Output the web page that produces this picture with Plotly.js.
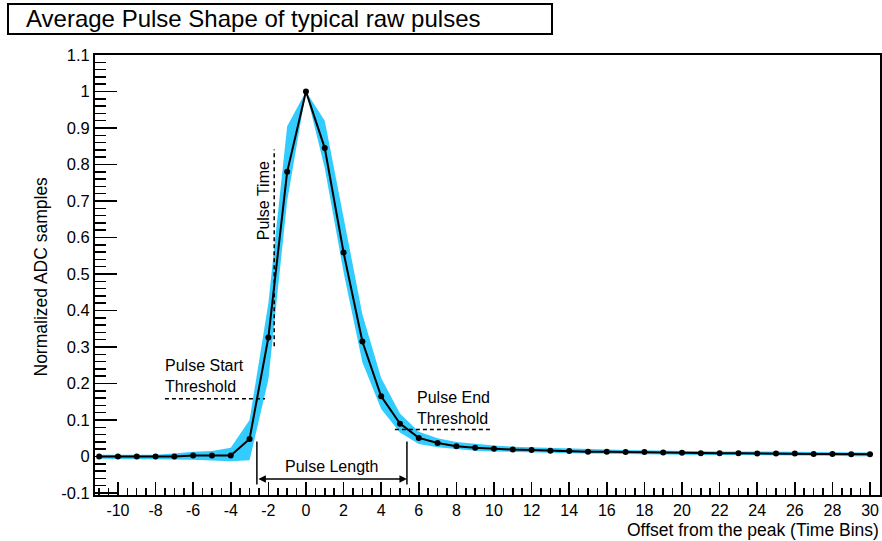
<!DOCTYPE html>
<html>
<head>
<meta charset="utf-8">
<script src="https://cdn.plot.ly/plotly-3.0.1.min.js"></script>
<style>html,body{margin:0;padding:0;background:#fff;}#chart{width:882px;height:541px;}</style>
</head>
<body>
<div id="chart"></div>
<script>
// ---- data ----
const offsets = [-11,-10,-9,-8,-7,-6,-5,-4,-3,-2,-1,0,1,2,3,4,5,6,7,8,9,10,11,12,13,14,15,16,17,18,19,20,21,22,23,24,25,26,27,28,29,30];
const meanADC = [0.000,0.000,0.000,0.000,0.000,0.003,0.003,0.003,0.048,0.326,0.780,1.000,0.845,0.559,0.315,0.165,0.090,0.051,0.037,0.028,0.024,0.021,0.019,0.018,0.016,0.015,0.013,0.013,0.012,0.012,0.011,0.010,0.009,0.009,0.009,0.008,0.008,0.008,0.007,0.007,0.006,0.006];
const bandUpper = [0.005,0.005,0.005,0.005,0.008,0.013,0.015,0.024,0.100,0.420,0.905,1.000,0.920,0.650,0.390,0.215,0.118,0.068,0.050,0.040,0.034,0.030,0.027,0.025,0.023,0.021,0.019,0.019,0.018,0.017,0.016,0.015,0.014,0.014,0.014,0.013,0.013,0.013,0.012,0.012,0.011,0.011];
const bandLower = [-0.006,-0.006,-0.006,-0.006,-0.008,-0.009,-0.011,-0.013,-0.010,0.210,0.700,1.000,0.790,0.505,0.258,0.130,0.066,0.034,0.025,0.020,0.016,0.014,0.012,0.011,0.010,0.009,0.008,0.008,0.007,0.007,0.006,0.005,0.004,0.004,0.004,0.003,0.003,0.003,0.002,0.002,0.001,0.001];
const xTickVals = [-10,-8,-6,-4,-2,0,2,4,6,8,10,12,14,16,18,20,22,24,26,28,30];
const xTickText = ["-10","-8","-6","-4","-2","0","2","4","6","8","10","12","14","16","18","20","22","24","26","28","30"];
const yTickVals = [-0.1,0,0.1,0.2,0.3,0.4,0.5,0.6,0.7,0.8,0.9,1,1.1];
const yTickText = ["-0.1","0","0.1","0.2","0.3","0.4","0.5","0.6","0.7","0.8","0.9","1","1.1"];

const FONT = "Liberation Sans, Arial, Helvetica, sans-serif";
const W = 882, H = 541, ML = 95, MR = 2, MT = 55, MB = 46;
const PW = W - ML - MR, PH = H - MT - MB;
const px2x = p => (p - ML) / PW;
const py2y = p => (H - MB - p) / PH;

const traces = [
  {x: offsets, y: bandLower, mode: 'lines', line: {width: 0, color: '#33ccff'}, hoverinfo: 'skip', showlegend: false},
  {x: offsets, y: bandUpper, mode: 'lines', fill: 'tonexty', fillcolor: '#33ccff', line: {width: 0, color: '#33ccff'}, hoverinfo: 'skip', showlegend: false},
  {x: offsets, y: meanADC, mode: 'lines+markers', line: {color: '#000', width: 2}, marker: {color: '#000', size: 6}, showlegend: false}
];

const dashed = {color: '#000', width: 1.5, dash: '4px,3px'};
const solid = {color: '#000', width: 1.5};

const layout = {
  width: W, height: H,
  margin: {l: ML, r: MR, t: MT, b: MB, pad: 0},
  paper_bgcolor: '#fff', plot_bgcolor: '#fff',
  font: {family: FONT, size: 16, color: '#000'},
  showlegend: false,
  xaxis: {
    range: [-11.22, 30.53], tickmode: 'array', tickvals: xTickVals, ticktext: xTickText,
    ticks: 'inside', ticklen: 13, tickwidth: 1.5, tickcolor: '#000',
    minor: {tickmode: 'linear', tick0: 0, dtick: 0.5, ticks: 'inside', ticklen: 7, tickwidth: 1.5, tickcolor: '#000', showgrid: false},
    showline: true, linewidth: 2, linecolor: '#000', mirror: true,
    showgrid: false, zeroline: false, tickfont: {family: FONT, size: 16}
  },
  yaxis: {
    range: [-0.1055, 1.1], tickmode: 'array', tickvals: yTickVals, ticktext: yTickText,
    ticks: 'inside', ticklen: 22, tickwidth: 1.5, tickcolor: '#000',
    minor: {tickmode: 'linear', tick0: 0, dtick: 0.02, ticks: 'inside', ticklen: 11, tickwidth: 1.5, tickcolor: '#000', showgrid: false},
    showline: true, linewidth: 2, linecolor: '#000', mirror: true,
    showgrid: false, zeroline: false, tickfont: {family: FONT, size: 16.5}
  },
  shapes: [
    {type: 'rect', xref: 'paper', yref: 'paper', x0: px2x(8), x1: px2x(552), y0: py2y(34), y1: py2y(4), line: {color: '#000', width: 2}, fillcolor: '#fff'},
    {type: 'line', xref: 'x', yref: 'y', x0: -1.69, x1: -1.69, y0: 0.302, y1: 0.841, line: dashed},
    {type: 'line', xref: 'x', yref: 'y', x0: -7.5, x1: -2.18, y0: 0.158, y1: 0.158, line: dashed},
    {type: 'line', xref: 'x', yref: 'y', x0: 4.73, x1: 9.88, y0: 0.074, y1: 0.074, line: dashed},
    {type: 'line', xref: 'x', yref: 'y', x0: -2.61, x1: -2.61, y0: 0.041, y1: -0.077, line: solid},
    {type: 'line', xref: 'x', yref: 'y', x0: 5.37, x1: 5.37, y0: 0.041, y1: -0.077, line: solid}
  ],
  annotations: [
    {text: 'Average Pulse Shape of typical raw pulses', xref: 'paper', yref: 'paper', x: px2x(24), y: py2y(18), xanchor: 'left', yanchor: 'middle', showarrow: false, font: {family: FONT, size: 24}},
    {text: 'Normalized ADC samples', xref: 'paper', yref: 'paper', x: px2x(40), y: py2y(276.5), xanchor: 'center', yanchor: 'middle', textangle: -90, showarrow: false, font: {family: FONT, size: 17.5}},
    {text: 'Offset from the peak (Time Bins)', xref: 'paper', yref: 'paper', x: px2x(881), y: py2y(530), xanchor: 'right', yanchor: 'middle', showarrow: false, font: {family: FONT, size: 17.5}},
    {text: 'Pulse Time', xref: 'x', yref: 'y', x: -2.27, y: 0.70, textangle: -90, showarrow: false, font: {family: FONT, size: 16}},
    {text: 'Pulse Start<br>Threshold', xref: 'x', yref: 'y', x: -7.6, y: 0.221, xanchor: 'left', yanchor: 'middle', align: 'left', showarrow: false, font: {family: FONT, size: 16}},
    {text: 'Pulse End<br>Threshold', xref: 'x', yref: 'y', x: 5.8, y: 0.132, xanchor: 'left', yanchor: 'middle', align: 'left', showarrow: false, font: {family: FONT, size: 16}},
    {text: 'Pulse Length', xref: 'x', yref: 'y', x: 1.36, y: -0.027, showarrow: false, font: {family: FONT, size: 16}},
    {text: '', xref: 'x', yref: 'y', axref: 'x', ayref: 'y', x: 5.37, y: -0.062, ax: -2.61, ay: -0.062, showarrow: true, arrowhead: 2, startarrowhead: 2, arrowside: 'end+start', arrowwidth: 1.5, arrowsize: 1, arrowcolor: '#000', standoff: 0, startstandoff: 0}
  ]
};

Plotly.newPlot('chart', traces, layout, {staticPlot: true, displayModeBar: false});
</script>
</body>
</html>
